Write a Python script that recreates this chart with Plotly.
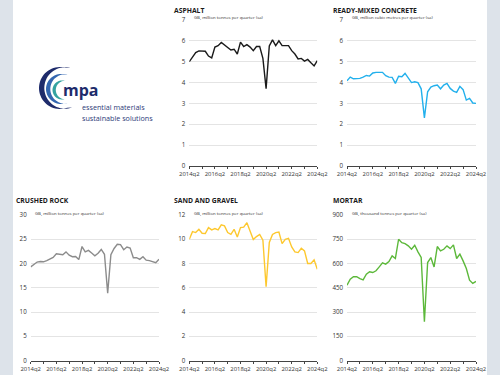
import numpy as np
import plotly.graph_objects as go

W, H = 500, 375

# ---------------- data ----------------
quarters = [f"{y}q{q}" for y in range(2014, 2025) for q in range(1, 5)][1:42]  # 2014q2 .. 2024q2
tick_quarters = ["2014q2", "2015q2", "2016q2", "2017q2", "2018q2", "2019q2",
                 "2020q2", "2021q2", "2022q2", "2023q2", "2024q2"]
tick_labels = ["2014q2", "", "2016q2", "", "2018q2", "", "2020q2", "", "2022q2", "", "2024q2"]

asphalt = [5.0, 5.24, 5.44, 5.52, 5.52, 5.5, 5.27, 5.18, 5.7, 5.77,
           5.92, 5.8, 5.68, 5.56, 5.6, 5.37, 5.94, 5.73, 5.82, 5.7,
           5.53, 5.73, 5.73, 5.16, 3.71, 5.76, 6.05, 5.77, 6.0, 5.77,
           5.77, 5.77, 5.53, 5.37, 5.13, 5.16, 5.03, 5.11, 4.95, 4.8, 5.05]

ready_mixed = [4.09, 4.26, 4.18, 4.18, 4.2, 4.26, 4.34, 4.31, 4.46, 4.49,
               4.49, 4.49, 4.33, 4.26, 4.25, 3.96, 4.3, 4.28, 4.44, 4.23,
               4.0, 4.04, 4.0, 3.7, 2.31, 3.56, 3.78, 3.85, 3.88, 3.7,
               3.88, 3.96, 3.72, 3.59, 3.53, 3.82, 3.66, 3.16, 3.24, 3.02, 3.0]

crushed_rock = [19.3, 19.8, 20.3, 20.4, 20.35, 20.6, 20.9, 21.25, 22.0, 21.95,
                21.8, 22.4, 21.7, 21.4, 21.45, 20.8, 23.5, 22.4, 22.7, 22.15,
                21.6, 22.1, 22.9, 21.9, 13.9, 21.8, 23.1, 23.95, 23.9, 22.85,
                23.4, 23.2, 21.2, 21.2, 20.85, 21.4, 20.7, 20.6, 20.3, 20.15, 20.9]

sand_gravel = [10.0, 10.63, 10.55, 10.82, 10.49, 10.47, 10.96, 10.77, 10.88, 10.77,
               11.18, 11.1, 10.55, 10.4, 10.82, 10.19, 10.96, 11.0, 11.37, 10.68,
               9.97, 10.22, 10.4, 9.92, 6.08, 9.73, 10.4, 10.55, 10.6, 9.64,
               10.0, 10.08, 9.37, 8.96, 8.9, 9.26, 9.04, 8.0, 8.0, 8.3, 7.53]

mortar = [466, 503, 518, 518, 507, 499, 534, 549, 544, 555,
          579, 604, 596, 612, 647, 631, 750, 729, 723, 709,
          688, 713, 672, 637, 240, 606, 637, 579, 705, 678,
          688, 709, 692, 715, 631, 658, 616, 569, 497, 477, 489]

titles = ["ASPHALT", "READY-MIXED CONCRETE", "CRUSHED ROCK", "SAND AND GRAVEL", "MORTAR"]
subtitles = ["GB, million tonnes per quarter (sa)",
             "GB, million cubic metres per quarter (sa)",
             "GB, million tonnes per quarter (sa)",
             "GB, million tonnes per quarter (sa)",
             "GB, thousand tonnes per quarter (sa)"]
y_max = [7, 7, 30, 12, 900]
y_step = [1, 1, 5, 2, 150]
series = [asphalt, ready_mixed, crushed_rock, sand_gravel, mortar]
colors = ["#1a1a1a", "#22b0ec", "#8c8c8c", "#fdc82f", "#5cb83a"]

# ---------------- layout geometry (pixels) ----------------
def fx(p):
    return p / W

def fy(p):
    return 1 - p / H

# (x0, x1, y_top, y_bottom) in pixels
boxes = [(189.3, 317.3, 20, 166),
         (347, 476, 20, 166),
         (30.7, 159, 215, 360.5),
         (189.3, 317.3, 215, 360.5),
         (347, 476, 215, 360.5)]
title_pos = [(172, 11), (331, 11), (14, 200), (172, 200), (331, 200)]
sub_pos = [(191.5, 17.5), (349.5, 17.5), (33, 213), (191.5, 213), (349.5, 213)]

FONT = "Open Sans"
fig = go.Figure()
layout = dict(template="none", width=W, height=H, margin=dict(l=0, r=0, t=0, b=0, pad=0),
              paper_bgcolor="white", plot_bgcolor="white", showlegend=False,
              font=dict(family=FONT, color="#333333"))
annotations = []
shapes = []

for i in range(5):
    sfx = "" if i == 0 else str(i + 1)
    fig.add_trace(go.Scatter(x=quarters, y=series[i], mode="lines",
                             line=dict(color=colors[i], width=1.4),
                             xaxis="x" + sfx, yaxis="y" + sfx, hoverinfo="skip"))
    x0, x1, yt, yb = boxes[i]
    layout["xaxis" + sfx] = dict(
        domain=[fx(x0), fx(x1)], anchor="y" + sfx, type="category", automargin=False,
        range=[0, 40], tickmode="array", tickvals=tick_quarters, ticktext=tick_labels,
        showgrid=False, showline=True, linecolor="#444444", linewidth=1,
        ticks="outside", ticklen=2.2, tickcolor="#444444", tickwidth=1,
        tickfont=dict(size=5.9, color="#333333", family=FONT), tickangle=0,
        fixedrange=True, zeroline=False)
    layout["yaxis" + sfx] = dict(
        domain=[fy(yb), fy(yt)], anchor="x" + sfx, automargin=False,
        range=[0, y_max[i]], tickmode="linear", tick0=0, dtick=y_step[i],
        showgrid=True, gridcolor="#e4e4e4", gridwidth=1, zeroline=False,
        showline=False, ticks="", ticklabelstandoff=3,
        tickfont=dict(size=6.2, color="#333333", family=FONT), fixedrange=True)
    tx, ty = title_pos[i]
    annotations.append(dict(text="<b>" + titles[i] + "</b>", x=fx(tx), y=fy(ty),
                            xref="paper", yref="paper", xanchor="left", yanchor="middle",
                            showarrow=False, font=dict(size=6.8, color="#1a1a1a", family=FONT)))
    sx, sy = sub_pos[i]
    annotations.append(dict(text=subtitles[i], x=fx(sx), y=fy(sy),
                            xref="paper", yref="paper", xanchor="left", yanchor="middle",
                            showarrow=False, font=dict(size=4.3, color="#333333", family=FONT)))

# side strips
shapes.append(dict(type="rect", xref="paper", yref="paper", x0=0, x1=fx(13), y0=0, y1=1,
                   fillcolor="#dde3ea", line=dict(width=0), layer="below"))
shapes.append(dict(type="rect", xref="paper", yref="paper", x0=fx(487), x1=1, y0=0, y1=1,
                   fillcolor="#dde3ea", line=dict(width=0), layer="below"))

# logo crescents (decoration)
def crescent(cx, cy, r, shift, a0, a1, n=40):
    a = np.radians(np.linspace(a0, a1, n))
    outer = [(cx + r * np.cos(t), cy - r * np.sin(t)) for t in a]
    inner = [(cx + shift + (r - 0.3) * np.cos(t), cy - (r - 0.3) * np.sin(t)) for t in a[::-1]]
    pts = outer + inner
    d = "M " + " L ".join(f"{fx(px):.5f},{fy(py):.5f}" for px, py in pts) + " Z"
    return d

logo_arcs = [(60, 88, 21, 5.0, 75, 290, "#1e2b6b"),
             (61, 89, 15, 4.0, 80, 280, "#3366b0"),
             (62, 90, 9.5, 3.0, 85, 270, "#35a3a0")]
for cx, cy, r, s, a0, a1, col in logo_arcs:
    shapes.append(dict(type="path", xref="paper", yref="paper",
                       path=crescent(cx, cy, r, s, a0, a1),
                       fillcolor=col, line=dict(width=0)))

annotations.append(dict(text="<b>mpa</b>", x=fx(61), y=fy(90), xref="paper", yref="paper",
                        xanchor="left", yanchor="middle", showarrow=False,
                        font=dict(size=16, color="#1e2b6b", family="Open Sans")))
annotations.append(dict(text="essential materials", x=fx(79.5), y=fy(107.5), xref="paper", yref="paper",
                        xanchor="left", yanchor="middle", showarrow=False,
                        font=dict(size=7.2, color="#2c3a78", family="Open Sans")))
annotations.append(dict(text="sustainable solutions", x=fx(79.5), y=fy(117.5), xref="paper", yref="paper",
                        xanchor="left", yanchor="middle", showarrow=False,
                        font=dict(size=7.2, color="#2c3a78", family="Open Sans")))

layout["annotations"] = annotations
layout["shapes"] = shapes
fig.update_layout(**layout)
fig.write_html("out.html", config={"displayModeBar": False},
               post_script="document.body.style.margin='0px';document.body.style.overflow='hidden';")
